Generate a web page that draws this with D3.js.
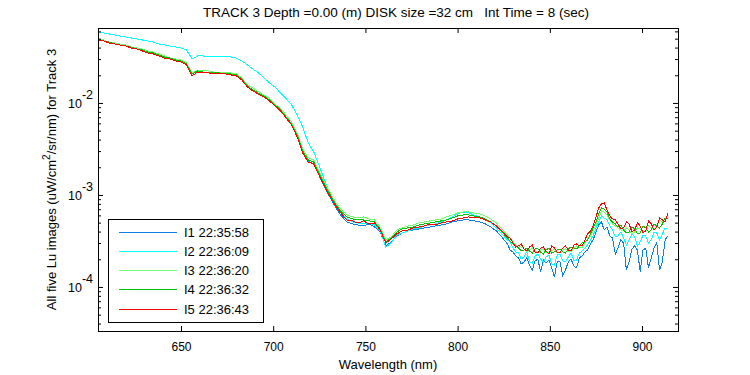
<!DOCTYPE html>
<html><head><meta charset="utf-8">
<script src="https://cdn.jsdelivr.net/npm/d3@7"></script>
<style>
body{margin:0;background:#fff;}
svg{display:block;font-family:"Liberation Sans",Arial,Helvetica,sans-serif;}
</style></head>
<body><svg id="c" width="750" height="375"></svg>
<script>
const titleText = "TRACK 3 Depth =0.00 (m) DISK size =32 cm   Int Time = 8 (sec)";
const xLabel = "Wavelength (nm)";
const xTicks = [650,700,750,800,850,900];
const yMajorTicks = [1e-2,1e-3,1e-4];
const yTickExp = ["-2","-3","-4"];
const seriesNames = ["I1 22:35:58","I2 22:36:09","I3 22:36:20","I4 22:36:32","I5 22:36:43"];
const seriesColors = ["#0f7fe8","#00ffff","#70ff70","#00c400","#ff0000"];

const wavelength = [605,608,611,614,617,620,623,626,629,632,635,638,641,644,647,650,653,656,659,662,665,668,671,674,677,680,683,686,689,692,695,698,701,704,707,710,713,716,719,722,725,728,731,734,737,740,743,746,749,752,755,758,761,764,767,770,773,776,779,782,785,788,791,794,797,800,803,806,809,812,815,818,821,824,
827,828.5,830,831.5,833,834.5,836,837.5,839,840.5,842,843.5,845,846.5,848,849.5,851,852.5,854,855.5,857,858.5,860,861.5,863,864.5,866,867.5,869,870.5,872,873.5,875,876.5,878,879.5,881,882.5,884,885.5,887,888.5,890,891.5,893,894.5,896,897.5,899,900.5,902,903.5,905,906.5,908,909.5,911,912.5,914];

const I1 = [4.96e-2,4.72e-2,4.60e-2,4.38e-2,4.27e-2,4.17e-2,4.06e-2,3.96e-2,3.77e-2,3.58e-2,3.50e-2,3.33e-2,3.16e-2,3.08e-2,2.93e-2,2.86e-2,2.65e-2,2.07e-2,2.23e-2,2.17e-2,2.17e-2,2.17e-2,2.12e-2,2.12e-2,2.07e-2,2.02e-2,1.82e-2,1.53e-2,1.38e-2,1.28e-2,1.19e-2,1.08e-2,9.52e-3,8.40e-3,7.05e-3,5.91e-3,4.38e-3,2.93e-3,2.34e-3,2.17e-3,1.61e-3,1.19e-3,9.28e-4,7.22e-4,5.91e-4,5.09e-4,4.84e-4,4.72e-4,4.60e-4,4.84e-4,4.49e-4,3.96e-4,2.79e-4,3.08e-4,3.58e-4,3.86e-4,4.06e-4,4.16e-4,4.27e-4,4.38e-4,4.49e-4,4.60e-4,4.72e-4,4.84e-4,5.09e-4,5.22e-4,5.35e-4,5.35e-4,5.22e-4,5.09e-4,4.84e-4,4.49e-4,4.06e-4,3.49e-4,
2.93e-4,2.52e-4,2.40e-4,2.17e-4,2.07e-4,1.78e-4,1.87e-4,2.07e-4,1.73e-4,1.53e-4,1.92e-4,2.01e-4,1.46e-4,1.96e-4,1.82e-4,1.96e-4,1.61e-4,1.28e-4,1.87e-4,1.87e-4,1.32e-4,1.53e-4,1.87e-4,2.01e-4,1.69e-4,1.61e-4,2.07e-4,2.17e-4,2.40e-4,2.52e-4,2.93e-4,3.24e-4,3.96e-4,4.72e-4,5.09e-4,4.16e-4,4.49e-4,3.58e-4,3.41e-4,2.28e-4,2.65e-4,3.24e-4,3.01e-4,1.53e-4,1.87e-4,2.59e-4,2.79e-4,2.52e-4,1.46e-4,2.52e-4,2.65e-4,1.61e-4,2.07e-4,2.65e-4,3.01e-4,1.53e-4,1.87e-4,3.24e-4,3.58e-4];

const I2 = [5.91e-2,5.77e-2,5.63e-2,5.49e-2,5.35e-2,5.22e-2,5.09e-2,4.96e-2,4.84e-2,4.72e-2,4.60e-2,4.38e-2,4.27e-2,4.17e-2,4.06e-2,3.96e-2,3.77e-2,3.01e-2,3.24e-2,3.24e-2,3.16e-2,3.16e-2,3.16e-2,3.16e-2,3.16e-2,3.08e-2,2.86e-2,2.59e-2,2.34e-2,2.12e-2,1.87e-2,1.65e-2,1.49e-2,1.28e-2,1.11e-2,9.52e-3,7.41e-3,5.49e-3,3.68e-3,2.93e-3,2.07e-3,1.42e-3,1.00e-3,7.79e-4,6.37e-4,5.48e-4,5.09e-4,4.96e-4,4.84e-4,4.96e-4,4.72e-4,4.06e-4,2.72e-4,3.01e-4,3.67e-4,3.86e-4,4.06e-4,4.27e-4,4.38e-4,4.60e-4,4.72e-4,4.84e-4,5.09e-4,5.35e-4,5.77e-4,6.22e-4,6.53e-4,6.37e-4,6.06e-4,5.77e-4,5.35e-4,4.96e-4,4.38e-4,3.77e-4,
3.24e-4,3.08e-4,2.65e-4,2.40e-4,2.34e-4,2.01e-4,2.12e-4,2.40e-4,1.87e-4,1.82e-4,2.17e-4,2.28e-4,2.01e-4,1.87e-4,2.12e-4,2.23e-4,1.78e-4,1.73e-4,2.23e-4,2.28e-4,1.92e-4,1.87e-4,2.12e-4,2.34e-4,1.96e-4,1.96e-4,2.34e-4,2.46e-4,2.65e-4,2.86e-4,3.24e-4,3.58e-4,4.38e-4,5.09e-4,5.91e-4,5.62e-4,5.35e-4,4.60e-4,4.16e-4,3.49e-4,3.58e-4,3.96e-4,3.41e-4,2.86e-4,3.24e-4,3.77e-4,3.49e-4,2.79e-4,3.08e-4,3.67e-4,3.58e-4,3.01e-4,3.24e-4,3.96e-4,3.86e-4,3.24e-4,3.77e-4,4.38e-4,4.27e-4];

const I3 = [4.96e-2,4.84e-2,4.60e-2,4.49e-2,4.38e-2,4.27e-2,4.06e-2,3.96e-2,3.86e-2,3.68e-2,3.58e-2,3.41e-2,3.24e-2,3.08e-2,3.01e-2,2.93e-2,2.72e-2,2.12e-2,2.28e-2,2.23e-2,2.23e-2,2.17e-2,2.17e-2,2.12e-2,2.12e-2,2.07e-2,1.87e-2,1.57e-2,1.46e-2,1.32e-2,1.22e-2,1.11e-2,9.76e-3,8.61e-3,7.41e-3,6.22e-3,4.72e-3,3.16e-3,2.53e-3,2.40e-3,1.78e-3,1.35e-3,1.05e-3,8.19e-4,6.87e-4,6.06e-4,5.77e-4,5.62e-4,5.77e-4,5.48e-4,5.35e-4,4.49e-4,3.24e-4,3.49e-4,4.16e-4,4.38e-4,4.60e-4,4.72e-4,4.96e-4,5.09e-4,5.22e-4,5.35e-4,5.48e-4,5.77e-4,6.06e-4,6.37e-4,6.53e-4,6.53e-4,6.37e-4,6.22e-4,5.91e-4,5.48e-4,4.96e-4,4.27e-4,
3.67e-4,3.41e-4,3.08e-4,2.86e-4,2.79e-4,2.72e-4,2.59e-4,2.40e-4,2.52e-4,2.65e-4,2.46e-4,2.40e-4,2.52e-4,2.59e-4,2.40e-4,2.34e-4,2.46e-4,2.59e-4,2.34e-4,2.40e-4,2.52e-4,2.59e-4,2.46e-4,2.40e-4,2.65e-4,2.79e-4,2.72e-4,2.65e-4,3.01e-4,3.32e-4,3.58e-4,4.06e-4,4.72e-4,5.62e-4,6.70e-4,6.53e-4,6.06e-4,5.35e-4,4.84e-4,4.60e-4,4.38e-4,4.16e-4,4.06e-4,4.38e-4,4.16e-4,3.77e-4,3.96e-4,4.38e-4,4.27e-4,3.96e-4,4.06e-4,4.60e-4,4.38e-4,4.27e-4,4.49e-4,5.35e-4,5.09e-4,5.48e-4,5.91e-4];

const I4 = [4.96e-2,4.72e-2,4.60e-2,4.38e-2,4.27e-2,4.17e-2,4.06e-2,3.86e-2,3.77e-2,3.58e-2,3.50e-2,3.33e-2,3.16e-2,3.08e-2,2.93e-2,2.86e-2,2.65e-2,2.07e-2,2.23e-2,2.17e-2,2.17e-2,2.12e-2,2.12e-2,2.07e-2,2.07e-2,2.02e-2,1.82e-2,1.53e-2,1.38e-2,1.28e-2,1.19e-2,1.08e-2,9.52e-3,8.40e-3,7.05e-3,5.91e-3,4.49e-3,3.01e-3,2.40e-3,2.28e-3,1.69e-3,1.28e-3,1.00e-3,7.79e-4,6.53e-4,5.77e-4,5.48e-4,5.35e-4,5.35e-4,5.22e-4,5.09e-4,4.27e-4,3.08e-4,3.41e-4,3.96e-4,4.27e-4,4.38e-4,4.49e-4,4.72e-4,4.84e-4,4.96e-4,5.09e-4,5.22e-4,5.35e-4,5.62e-4,5.91e-4,6.06e-4,6.06e-4,5.91e-4,5.77e-4,5.48e-4,5.09e-4,4.60e-4,3.96e-4,
3.41e-4,3.16e-4,2.93e-4,2.79e-4,2.65e-4,2.46e-4,2.52e-4,2.65e-4,2.46e-4,2.34e-4,2.59e-4,2.59e-4,2.40e-4,2.28e-4,2.52e-4,2.65e-4,2.34e-4,2.40e-4,2.52e-4,2.59e-4,2.40e-4,2.34e-4,2.59e-4,2.72e-4,2.65e-4,2.59e-4,2.79e-4,3.01e-4,3.08e-4,3.24e-4,3.77e-4,4.38e-4,5.09e-4,6.22e-4,7.22e-4,7.04e-4,6.53e-4,5.48e-4,5.09e-4,4.84e-4,4.49e-4,4.72e-4,4.16e-4,3.86e-4,3.96e-4,4.49e-4,4.27e-4,3.77e-4,3.86e-4,4.60e-4,4.38e-4,3.96e-4,4.16e-4,4.84e-4,4.60e-4,4.38e-4,4.84e-4,5.62e-4,5.48e-4];

const I5 = [4.84e-2,4.72e-2,4.49e-2,4.38e-2,4.27e-2,4.17e-2,3.96e-2,3.86e-2,3.68e-2,3.50e-2,3.41e-2,3.24e-2,3.08e-2,3.01e-2,2.86e-2,2.79e-2,2.59e-2,1.97e-2,2.17e-2,2.12e-2,2.12e-2,2.07e-2,2.07e-2,2.07e-2,2.02e-2,1.97e-2,1.78e-2,1.49e-2,1.35e-2,1.25e-2,1.16e-2,1.05e-2,9.28e-3,8.19e-3,6.87e-3,5.77e-3,4.27e-3,2.86e-3,2.28e-3,2.17e-3,1.61e-3,1.22e-3,9.51e-4,7.59e-4,6.22e-4,5.35e-4,5.22e-4,4.96e-4,5.22e-4,4.84e-4,4.96e-4,4.16e-4,3.01e-4,3.32e-4,3.77e-4,4.06e-4,4.16e-4,4.38e-4,4.49e-4,4.60e-4,4.84e-4,4.72e-4,4.96e-4,5.09e-4,5.22e-4,5.48e-4,5.62e-4,5.77e-4,5.62e-4,5.62e-4,5.35e-4,5.09e-4,4.60e-4,4.06e-4,
3.49e-4,3.41e-4,3.01e-4,2.72e-4,2.79e-4,2.93e-4,2.59e-4,2.46e-4,2.72e-4,2.86e-4,2.40e-4,2.34e-4,2.65e-4,2.72e-4,2.46e-4,2.28e-4,2.79e-4,2.65e-4,2.40e-4,2.34e-4,2.65e-4,2.79e-4,2.52e-4,2.46e-4,2.86e-4,2.93e-4,2.79e-4,2.79e-4,3.24e-4,3.77e-4,4.06e-4,4.60e-4,5.77e-4,7.22e-4,7.98e-4,8.19e-4,6.87e-4,5.91e-4,5.48e-4,5.35e-4,4.84e-4,4.27e-4,4.38e-4,5.09e-4,4.84e-4,3.96e-4,4.16e-4,4.96e-4,4.60e-4,3.86e-4,4.06e-4,5.22e-4,4.84e-4,4.16e-4,4.49e-4,5.62e-4,5.35e-4,5.09e-4,6.37e-4];

const seriesValues = [I1, I2, I3, I4, I5];

const L = 98, R = 678, T = 28, B = 331;
const svg = d3.select("#c");
const x = d3.scaleLinear().domain([605, 919.5]).range([L, R]);
const y = d3.scaleLog().domain([3.32e-5, 6.53e-2]).range([B, T]);

// series lines
const line = d3.line().x((d, i) => x(wavelength[i])).y(d => y(d));
svg.append("g").selectAll("path").data(seriesValues).join("path")
  .attr("d", line).attr("fill", "none")
  .attr("stroke", (d, i) => seriesColors[i]).attr("stroke-width", 1)
  .attr("shape-rendering", "crispEdges");

// axes
const axStyle = g => { g.select(".domain").remove(); g.selectAll("line").attr("stroke", "#000"); };
svg.append("g").attr("transform", `translate(0,${B})`)
  .call(d3.axisBottom(x).tickValues(xTicks).tickSize(-5).tickPadding(11).tickFormat(d3.format("d")))
  .call(axStyle)
  .call(g => g.selectAll("text").attr("font-size", 12).attr("fill", "#000").attr("font-family", null));
svg.append("g").attr("transform", `translate(0,${T})`)
  .call(d3.axisTop(x).tickValues(xTicks).tickSize(-5).tickFormat(""))
  .call(axStyle);

const minor = y.ticks().filter(v => !yMajorTicks.some(m => Math.abs(v / m - 1) < 1e-6));
[[L, d3.axisLeft], [R, d3.axisRight]].forEach(([pos, ax]) => {
  svg.append("g").attr("transform", `translate(${pos},0)`)
    .call(ax(y).tickValues(yMajorTicks).tickSize(-5).tickFormat("")).call(axStyle);
  svg.append("g").attr("transform", `translate(${pos},0)`)
    .call(ax(y).tickValues(minor).tickSize(-3).tickFormat("")).call(axStyle);
});
// y tick labels 10^n
const yl = svg.append("g").attr("font-size", 12.5).attr("fill", "#000");
yMajorTicks.forEach((v, i) => {
  const t = yl.append("text").attr("x", 93).attr("y", y(v) + 5).attr("text-anchor", "end");
  t.append("tspan").text("10");
  t.append("tspan").attr("dy", -9).text(yTickExp[i]);
});

// box
svg.append("rect").attr("x", L).attr("y", T).attr("width", R - L).attr("height", B - T)
  .attr("fill", "none").attr("stroke", "#000").attr("shape-rendering", "crispEdges");

// title & labels
svg.append("text").attr("x", 396).attr("y", 17).attr("text-anchor", "middle")
  .attr("font-size", 13.5).style("white-space", "pre").text(titleText);
svg.append("text").attr("x", (L + R) / 2).attr("y", 369).attr("text-anchor", "middle")
  .attr("font-size", 13).text(xLabel);
const ylab = svg.append("text").attr("transform", `translate(56,${(T + B) / 2}) rotate(-90)`)
  .attr("text-anchor", "middle").attr("font-size", 13);
ylab.append("tspan").text("All five Lu images (uW/cm");
ylab.append("tspan").attr("dy", -6).attr("font-size", 10).text("2");
ylab.append("tspan").attr("dy", 6).text("/sr/nm) for Track 3");

// legend
const lg = svg.append("g");
lg.append("rect").attr("x", 108).attr("y", 219).attr("width", 155).attr("height", 103)
  .attr("fill", "#fff").attr("stroke", "#000").attr("shape-rendering", "crispEdges");
seriesNames.forEach((n, i) => {
  const yy = 232 + i * 19.25;
  lg.append("line").attr("x1", 119).attr("x2", 177).attr("y1", yy).attr("y2", yy)
    .attr("stroke", seriesColors[i]).attr("shape-rendering", "crispEdges");
  lg.append("text").attr("x", 184).attr("y", yy + 4.5).attr("font-size", 13).text(n);
});
</script></body></html>
